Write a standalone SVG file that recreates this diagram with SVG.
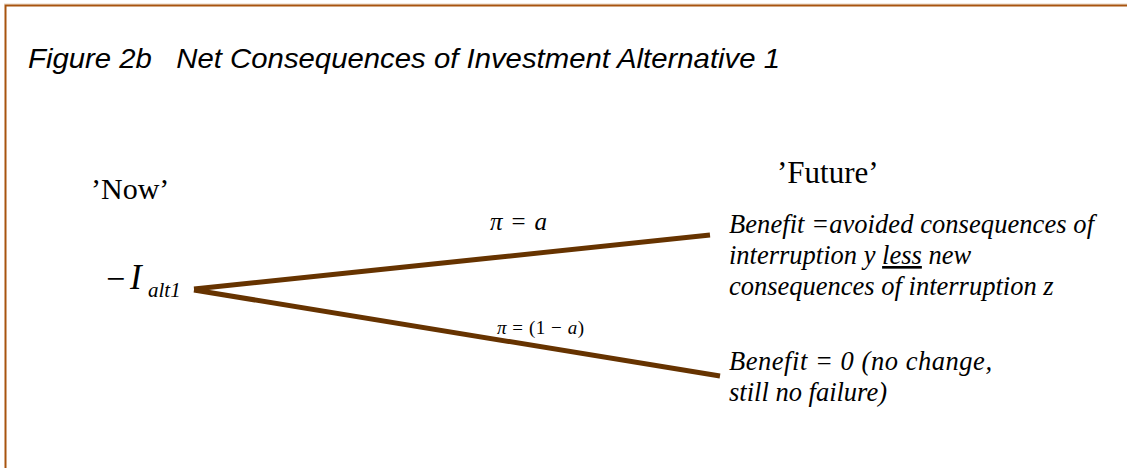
<svg xmlns="http://www.w3.org/2000/svg" width="1127" height="468" viewBox="0 0 1127 468">
<style>
.tnr{font-family:"Liberation Serif","Times New Roman",serif;fill:#000}
.it{font-style:italic}
.branch{stroke:#663300;stroke-width:5;fill:none}
.ttl{font-family:"Liberation Sans Narrow","Liberation Sans",sans-serif;font-style:italic;white-space:pre}
</style>
<rect x="0" y="0" width="1127" height="468" fill="#fff"/>
<line x1="4" y1="4" x2="1127" y2="4" stroke="#E8D4C0" stroke-width="1"/>
<path d="M1127 5.5 H5.5 V468" fill="none" stroke="#A8540F" stroke-width="2"/>
<g id="title">
<text class="ttl" x="28" y="68" font-size="28" xml:space="preserve" textLength="752" lengthAdjust="spacingAndGlyphs">Figure 2b   Net Consequences of Investment Alternative 1</text>
</g>
<g id="now">
<text class="tnr" x="91" y="199" font-size="30">’Now’</text>
</g>
<g id="future">
<text class="tnr" x="777" y="183" font-size="31">’Future’</text>
</g>
<g id="root">
<text class="tnr" x="106" y="290" font-size="34">−</text>
<text class="tnr it" x="130" y="289" font-size="35">I</text>
<text class="tnr it" x="148" y="297" font-size="21">alt1</text>
</g>
<g id="connectors">
<line class="branch" x1="194" y1="289" x2="710" y2="235"/>
<line class="branch" x1="194" y1="290" x2="720" y2="376"/>
<text class="tnr" x="490" y="230" font-size="25" textLength="57" lengthAdjust="spacing"><tspan class="it">π</tspan> = <tspan class="it">a</tspan></text>
<text class="tnr" x="497" y="334" font-size="19" textLength="87" lengthAdjust="spacing"><tspan class="it">π</tspan> = (1 − <tspan class="it">a</tspan>)</text>
</g>
<g id="outcome1">
<text class="tnr it" x="729" y="233" font-size="26.5" textLength="365" lengthAdjust="spacing">Benefit =avoided consequences of</text>
<text class="tnr it" x="729" y="264" font-size="26.5">interruption y <tspan text-decoration="underline">less</tspan> new</text>
<text class="tnr it" x="729" y="295" font-size="26.5">consequences of interruption z</text>
</g>
<g id="outcome2">
<text class="tnr it" x="729" y="370" font-size="26.5" textLength="263" lengthAdjust="spacing">Benefit = 0 (no change,</text>
<text class="tnr it" x="729" y="401" font-size="26.5">still no failure)</text>
</g>
</svg>
